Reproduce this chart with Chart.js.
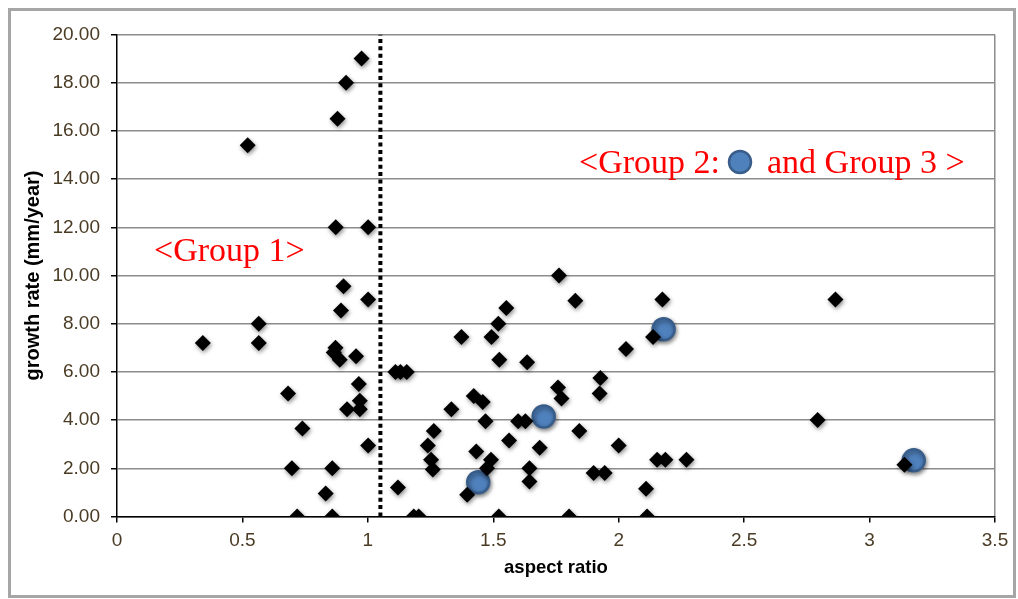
<!DOCTYPE html>
<html>
<head>
<meta charset="utf-8">
<script src="https://cdn.jsdelivr.net/npm/chart.js@4/dist/chart.umd.min.js"></script>
<style>
  html, body { margin: 0; padding: 0; background: #fff; }
  #wrap { width: 1018px; height: 599px; }
</style>
</head>
<body>
<div id="wrap"><canvas id="growthChart" width="1018" height="599"></canvas></div>
<script>
// Group 1: aspect ratio below the cut-off line
const group1Aspect = [0.975, 0.913, 0.879, 0.521, 0.872, 1.001, 0.903, 1.001, 0.893, 0.565,
  0.342, 0.565, 0.871, 0.864, 0.888, 0.953, 0.682, 0.964, 0.968, 0.917,
  0.968, 0.739, 1.001, 0.697, 0.858, 0.832, 0.718, 0.858];
const group1Growth = [19.0, 18.0, 16.5, 15.4, 12.0, 12.0, 9.55, 9.0, 8.55, 8.0,
  7.2, 7.2, 7.0, 6.8, 6.5, 6.65, 5.1, 5.5, 4.8, 4.45,
  4.45, 3.65, 2.95, 2.0, 2.0, 0.95, 0.0, 0.0];

// Group 3: diamonds right of the line
const group3Aspect = [1.11, 1.13, 1.155, 1.12, 1.183, 1.203, 1.762, 1.827, 2.174, 2.137,
  2.029, 1.552, 1.52, 1.493, 1.373, 1.524, 1.635, 1.927, 1.924, 1.758,
  1.772, 1.422, 1.458, 1.333, 1.469, 1.599, 1.628, 1.263, 1.843, 1.239,
  1.563, 2.0, 1.685, 1.432, 1.252, 1.491, 1.259, 1.475, 1.644, 1.644,
  1.396, 1.9, 1.944, 2.153, 2.186, 2.27, 2.109, 1.522, 1.802, 2.113,
  2.864, 2.793, 3.139];
const group3Growth = [6.0, 6.0, 6.0, 1.2, 0.0, 0.0, 10.0, 8.95, 9.0, 7.45,
  6.95, 8.65, 8.0, 7.45, 7.45, 6.5, 6.4, 5.75, 5.1, 5.35,
  4.9, 5.0, 4.75, 4.45, 3.95, 3.95, 3.95, 3.55, 3.55, 2.95,
  3.15, 2.95, 2.85, 2.7, 2.35, 2.35, 1.95, 2.0, 2.0, 1.45,
  0.9, 1.8, 1.8, 2.35, 2.35, 2.35, 1.15, 0.0, 0.0, 0.0,
  9.0, 4.0, 2.15];

// Group 2: blue circles
const group2Aspect = [1.44, 1.701, 2.179, 3.176];
const group2Growth = [1.42, 4.15, 7.77, 2.33];

// dotted cut-off line
const cutoffAspect = 1.05;

const xTickLabels = ["0", "0.5", "1", "1.5", "2", "2.5", "3", "3.5"];
const yTickLabels = ["0.00", "2.00", "4.00", "6.00", "8.00", "10.00",
  "12.00", "14.00", "16.00", "18.00", "20.00"];

function toPoints(xs, ys) {
  return xs.map(function (x, i) { return { x: x, y: ys[i] }; });
}

Chart.defaults.font.family = "'Liberation Sans', Arial, sans-serif";

// soft drop shadow under the markers, grey frame and red annotations
const decorPlugin = {
  id: "decor",
  beforeDraw: function (chart) {
    const ctx = chart.ctx;
    ctx.save();
    ctx.fillStyle = "#fff";
    ctx.fillRect(0, 0, chart.width, chart.height);
    ctx.strokeStyle = "#a6a6a6";
    ctx.lineWidth = 3;
    ctx.strokeRect(9.5, 9.5, 1005, 587);
    ctx.restore();
  },
  beforeDatasetDraw: function (chart, args) {
    const ctx = chart.ctx;
    ctx.save();
    if (args.index < 3) {
      ctx.shadowColor = "rgba(0,0,0,0.45)";
      ctx.shadowBlur = 4;
      ctx.shadowOffsetX = 1;
      ctx.shadowOffsetY = 2;
    }
  },
  afterDatasetDraw: function (chart) {
    chart.ctx.restore();
  },
  afterDraw: function (chart) {
    const ctx = chart.ctx;
    ctx.save();
    ctx.fillStyle = "#ff0000";
    ctx.font = "34px 'Liberation Serif', 'Times New Roman', serif";
    ctx.textBaseline = "alphabetic";
    ctx.fillText("<Group 1>", 154, 261);
    ctx.fillText("<Group 2:", 579, 173);
    ctx.fillText("and Group 3 >", 767, 173);
    ctx.beginPath();
    ctx.arc(740, 162, 11, 0, Math.PI * 2);
    ctx.fillStyle = "#4f81bd";
    ctx.fill();
    ctx.lineWidth = 2.5;
    ctx.strokeStyle = "#385d8a";
    ctx.stroke();
    ctx.restore();
  },
};

new Chart(document.getElementById("growthChart"), {
  type: "scatter",
  data: {
    datasets: [
      {
        label: "Group 1",
        data: toPoints(group1Aspect, group1Growth),
        pointStyle: "rectRot",
        pointRadius: 8,
        backgroundColor: "#000",
        borderColor: "#000",
        borderWidth: 0,
      },
      {
        label: "Group 3",
        data: toPoints(group3Aspect, group3Growth),
        pointStyle: "rectRot",
        pointRadius: 8,
        backgroundColor: "#000",
        borderColor: "#000",
        borderWidth: 0,
      },
      {
        label: "Group 2",
        data: toPoints(group2Aspect, group2Growth),
        pointStyle: "circle",
        pointRadius: 11,
        backgroundColor: "#4f81bd",
        borderColor: "#385d8a",
        borderWidth: 2.5,
      },
      {
        type: "line",
        label: "cut-off",
        data: [{ x: cutoffAspect, y: 0 }, { x: cutoffAspect, y: 20 }],
        borderColor: "#000",
        borderWidth: 4,
        borderDash: [4, 3.4],
        borderCapStyle: "butt",
        pointRadius: 0,
        fill: false,
      },
    ],
  },
  options: {
    responsive: false,
    animation: false,
    events: [],
    layout: {
      padding: { left: 17, right: 23, top: 34.5, bottom: 12 },
    },
    plugins: {
      legend: { display: false },
      tooltip: { enabled: false },
    },
    scales: {
      x: {
        type: "linear",
        min: 0,
        max: 3.5,
        afterFit: function (scale) { scale.height = 70.5; },
        ticks: {
          stepSize: 0.5,
          padding: 7,
          color: "#4a3b24",
          font: { size: 19 },
          callback: function (value, index) { return xTickLabels[index]; },
        },
        grid: {
          color: function (c) { return c.tick && c.tick.value === 3.5 ? "#8c8c8c" : "rgba(0,0,0,0)"; },
          lineWidth: 1.5,
          tickColor: "#000",
          tickLength: 6,
        },
        border: { color: "#000", width: 1.5 },
        title: {
          display: true,
          text: "aspect ratio",
          color: "#000",
          font: { size: 18.5, weight: "bold" },
          padding: { top: 4, bottom: 8 },
        },
      },
      y: {
        min: 0,
        max: 20,
        afterFit: function (scale) { scale.width = 100; },
        ticks: {
          stepSize: 2,
          padding: 11,
          color: "#4a3b24",
          font: { size: 19 },
          callback: function (value, index) { return yTickLabels[index]; },
        },
        grid: {
          color: "#8c8c8c",
          lineWidth: 1.5,
          tickColor: "#000",
          tickLength: 6,
        },
        border: { color: "#000", width: 1.5 },
        title: {
          display: true,
          text: "growth rate (mm/year)",
          color: "#000",
          font: { size: 20, weight: "bold" },
          padding: { top: 4, bottom: 4 },
        },
      },
    },
  },
  plugins: [decorPlugin],
});
</script>
</body>
</html>
